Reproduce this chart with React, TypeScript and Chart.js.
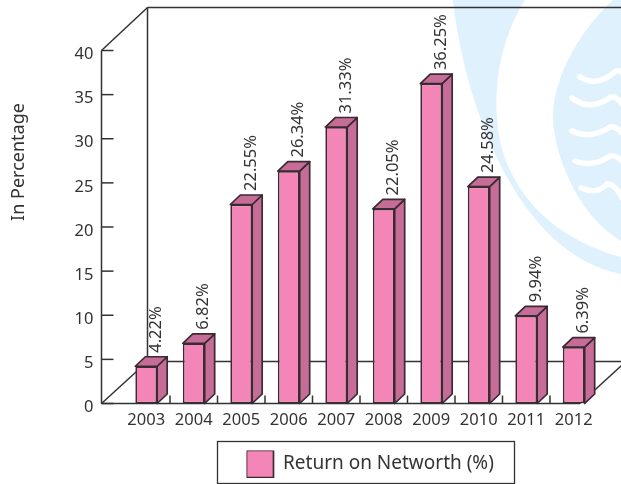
import React, { useEffect, useRef } from "react";
import { Chart, registerables } from "chart.js";

Chart.register(...registerables);

const categories = ["2003", "2004", "2005", "2006", "2007", "2008", "2009", "2010", "2011", "2012"];
const returnOnNetworth = [4.22, 6.82, 22.55, 26.34, 31.33, 22.05, 36.25, 24.58, 9.94, 6.39];
const seriesName = "Return on Networth (%)";
const axisTitle = "In Percentage";

const FONT = '"Noto Sans", sans-serif';
const INK = "#333333";
const FACE = "#F386B6";
const SHADE = "#C66D97";
const EDGE = "#3A2A33";
const TINT = "#DFF1FC";

// Pale emblem that sits behind the plot
function drawEmblem(ctx: CanvasRenderingContext2D) {
  ctx.save();
  ctx.fillStyle = TINT;
  ctx.beginPath();
  ctx.moveTo(453, 0);
  ctx.bezierCurveTo(465, 110, 520, 255, 621, 274);
  ctx.lineTo(621, 0);
  ctx.closePath();
  ctx.fill();

  ctx.fillStyle = "#ffffff";
  ctx.beginPath();
  ctx.moveTo(525, 0);
  ctx.bezierCurveTo(490, 55, 490, 130, 510, 170);
  ctx.bezierCurveTo(530, 215, 575, 245, 621, 257);
  ctx.lineTo(621, 241);
  ctx.bezierCurveTo(582, 218, 557, 165, 553, 122);
  ctx.bezierCurveTo(551, 85, 575, 35, 613, 0);
  ctx.closePath();
  ctx.fill();

  ctx.strokeStyle = "#ffffff";
  ctx.lineWidth = 5.5;
  ctx.lineCap = "round";
  const ripples = [
    [580, 77, 597, 88, 616, 71, 622, 73],
    [572, 98, 590, 112, 611, 97, 622, 104],
    [572, 131, 590, 140, 610, 127, 622, 133],
    [575, 161, 593, 168, 610, 156, 622, 161],
    [581, 188, 597, 195, 607, 184, 622, 198],
  ];
  for (const [x0, y0, cx, cy, x1, y1, x2, y2] of ripples) {
    ctx.beginPath();
    ctx.moveTo(x0, y0);
    ctx.quadraticCurveTo(cx, cy, x1, y1);
    ctx.quadraticCurveTo((x1 + x2) / 2, y1 - 1, x2, y2);
    ctx.stroke();
  }
  ctx.restore();
}

function segment(ctx: CanvasRenderingContext2D, x0: number, y0: number, x1: number, y1: number) {
  ctx.beginPath();
  ctx.moveTo(x0, y0);
  ctx.lineTo(x1, y1);
  ctx.stroke();
}

const AXIS_X = 101.5;
const WALL_DX = 46;
const WALL_DY = 42;
const BAR_DX = 10;
const BAR_DY = 9.5;

// Box frame, axis ticks and the receding faces of each bar
const frame3d = {
  id: "frame3d",
  beforeDraw(chart: any) {
    const ctx = chart.ctx;
    ctx.save();
    ctx.fillStyle = "#ffffff";
    ctx.fillRect(0, 0, chart.width, chart.height);
    drawEmblem(ctx);
    ctx.restore();
  },
  beforeDatasetsDraw(chart: any) {
    const ctx = chart.ctx;
    const { x, y } = chart.scales;
    const floor = y.getPixelForValue(0);
    const ceil = y.getPixelForValue(40);
    const backX = AXIS_X + WALL_DX;
    const backFloor = floor - WALL_DY;
    const backTop = 7.5;
    const floorEnd = 580;

    ctx.save();
    ctx.strokeStyle = INK;
    ctx.lineWidth = 1.5;
    segment(ctx, backX, backTop, chart.width, backTop);
    segment(ctx, backX, backTop, backX, backFloor);
    segment(ctx, backX, backFloor, chart.width, backFloor);
    segment(ctx, AXIS_X, ceil, backX, backTop);
    segment(ctx, AXIS_X, floor, backX, backFloor);
    segment(ctx, floorEnd, floor, floorEnd + WALL_DX, backFloor);
    segment(ctx, AXIS_X, ceil, AXIS_X, floor);
    segment(ctx, AXIS_X, floor, floorEnd, floor);

    y.ticks.forEach((t: any) => {
      const py = y.getPixelForValue(t.value);
      segment(ctx, AXIS_X, py, AXIS_X + 12, py);
    });
    const step = x.getPixelForTick(1) - x.getPixelForTick(0);
    categories.slice(0, -1).forEach((_, i) => {
      const px = x.getPixelForTick(i) + step / 2;
      segment(ctx, px, floor, px, floor - 8);
    });

    ctx.lineWidth = 1.7;
    ctx.strokeStyle = EDGE;
    ctx.fillStyle = SHADE;
    ctx.lineJoin = "round";
    chart.getDatasetMeta(0).data.forEach((bar: any) => {
      const half = bar.width / 2;
      const l = bar.x - half;
      const r = bar.x + half;
      ctx.beginPath();
      ctx.moveTo(r, bar.y);
      ctx.lineTo(r + BAR_DX, bar.y - BAR_DY);
      ctx.lineTo(r + BAR_DX, bar.base - BAR_DY);
      ctx.lineTo(r, bar.base);
      ctx.closePath();
      ctx.fill();
      ctx.stroke();
      ctx.beginPath();
      ctx.moveTo(l, bar.y);
      ctx.lineTo(l + BAR_DX, bar.y - BAR_DY);
      ctx.lineTo(r + BAR_DX, bar.y - BAR_DY);
      ctx.lineTo(r, bar.y);
      ctx.closePath();
      ctx.fill();
      ctx.stroke();
    });
    ctx.restore();
  },
  afterDatasetsDraw(chart: any) {
    const ctx = chart.ctx;
    ctx.save();
    ctx.fillStyle = INK;
    ctx.font = `16.5px ${FONT}`;
    ctx.textAlign = "left";
    ctx.textBaseline = "middle";
    chart.getDatasetMeta(0).data.forEach((bar: any, i: number) => {
      ctx.save();
      ctx.translate(bar.x + 10, bar.y - 13.5);
      ctx.rotate(-Math.PI / 2);
      ctx.fillText(`${returnOnNetworth[i].toFixed(2)}%`, 0, 0);
      ctx.restore();
    });

    ctx.font = `18px ${FONT}`;
    ctx.textAlign = "center";
    ctx.translate(18.5, 162);
    ctx.rotate(-Math.PI / 2);
    ctx.fillText(axisTitle, 0, 0);
    ctx.restore();

    ctx.save();
    ctx.strokeStyle = INK;
    ctx.lineWidth = 1.3;
    ctx.strokeRect(217.5, 441.5, 297, 42);
    ctx.restore();
  },
  afterLayout(chart: any) {
    // The key sits in its own framed box below the axis
    const legend = chart.legend;
    legend.left = 246.5;
    legend.top = 450.5;
    legend.right = 510;
    legend.bottom = 478;
  },
};

export default function App() {
  const ref = useRef<HTMLCanvasElement | null>(null);

  useEffect(() => {
    const tickFont = { family: FONT, size: 16.5 };
    const chart = new Chart(ref.current as HTMLCanvasElement, {
      type: "bar",
      data: {
        labels: categories,
        datasets: [
          {
            label: seriesName,
            data: returnOnNetworth,
            backgroundColor: FACE,
            borderColor: EDGE,
            borderWidth: 1.7,
            borderSkipped: false,
            barPercentage: 0.46,
            categoryPercentage: 1,
          },
        ],
      },
      options: {
        responsive: false,
        animation: false,
        layout: { padding: { left: 0, right: 23.5, top: 50.5, bottom: 0 } },
        plugins: {
          tooltip: { enabled: false },
          legend: {
            position: "chartArea",
            align: "start",
            labels: {
              boxWidth: 27,
              boxHeight: 27,
              padding: 0,
              color: INK,
              font: { family: FONT, size: 19 },
            },
          },
        },
        scales: {
          x: {
            type: "category",
            offset: true,
            grid: { display: false },
            border: { display: false },
            ticks: { color: INK, font: tickFont, padding: -1, maxRotation: 0, autoSkip: false },
            afterFit(scale: any) {
              scale.height = 80.5;
            },
          },
          y: {
            min: 0,
            max: 40,
            grid: { display: false },
            border: { display: false },
            ticks: { color: INK, font: tickFont, stepSize: 5, padding: 21, labelOffset: 4 },
            afterFit(scale: any) {
              scale.width = 122.5;
            },
          },
        },
      } as any,
      plugins: [frame3d],
    });
    return () => chart.destroy();
  }, []);

  return (
    <div style={{ position: "absolute", left: 0, top: 0 }}>
      <canvas ref={ref} width={621} height={484} style={{ display: "block" }} />
    </div>
  );
}
